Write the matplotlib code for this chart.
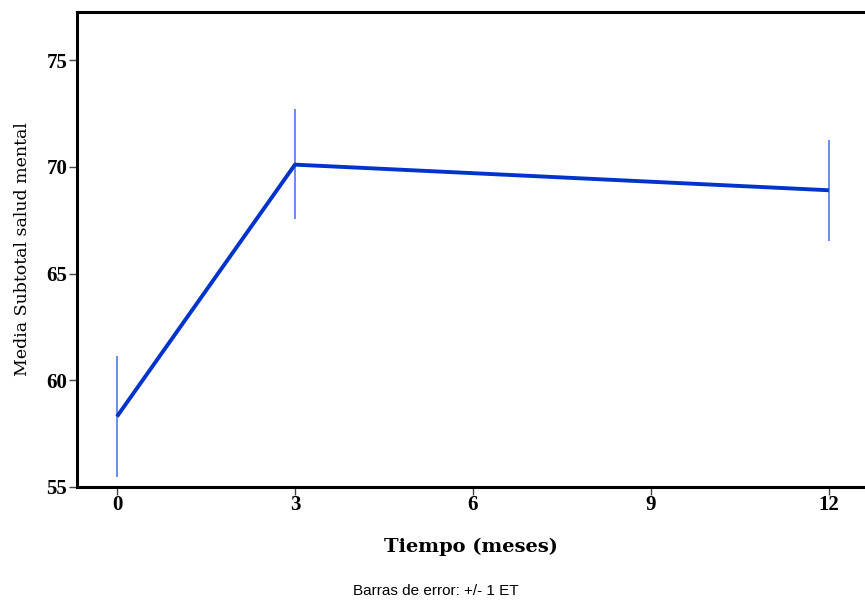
import matplotlib
matplotlib.use('Agg')
import matplotlib.pyplot as plt

# datos
meses = [0, 3, 12]
medias = [58.3, 70.1, 68.9]
err_sup = [61.15, 72.7, 71.25]
err_inf = [55.45, 67.55, 66.5]
ticks_x = [0, 3, 6, 9, 12]
ticks_y = [55, 60, 65, 70, 75]

fig = plt.figure(figsize=(8.65, 6.01), dpi=100)
ax = fig.add_axes([77 / 865, 1 - 487 / 601, 1 - 77 / 865, (487 - 12) / 601])

ax.vlines(meses, err_inf, err_sup, colors='#6b8cf0', linewidth=1.4, zorder=2)
ax.plot(meses, medias, color='#0033cc', linewidth=2.8, zorder=3, solid_capstyle='butt')

ax.set_xlim(-0.674, 12.61)
ax.set_ylim(55, 77.25)
ax.set_xticks(ticks_x)
ax.set_yticks(ticks_y)
ax.set_xticklabels([str(t) for t in ticks_x], fontfamily='Liberation Serif', fontweight='bold', fontsize=15)
ax.set_yticklabels([str(t) for t in ticks_y], fontfamily='Liberation Serif', fontweight='bold', fontsize=15)
ax.tick_params(axis='both', direction='out', length=6, width=1.0, color='#444444')
ax.tick_params(axis='x', pad=0)
ax.tick_params(axis='y', pad=1)

for s in ['left', 'bottom', 'top']:
    ax.spines[s].set_linewidth(2.2)
ax.spines['right'].set_visible(False)

ax.set_xlabel('Tiempo (meses)', fontfamily='DejaVu Serif', fontweight='bold', fontsize=14, labelpad=16)
ax.set_ylabel('Media Subtotal salud mental', fontfamily='DejaVu Serif', fontsize=12.5, labelpad=11)

fig.text(436 / 865, 1 - 591 / 601, 'Barras de error: +/- 1 ET', ha='center', va='center',
         fontfamily='Liberation Sans', fontsize=11)

fig.savefig('out.png', dpi=100)
